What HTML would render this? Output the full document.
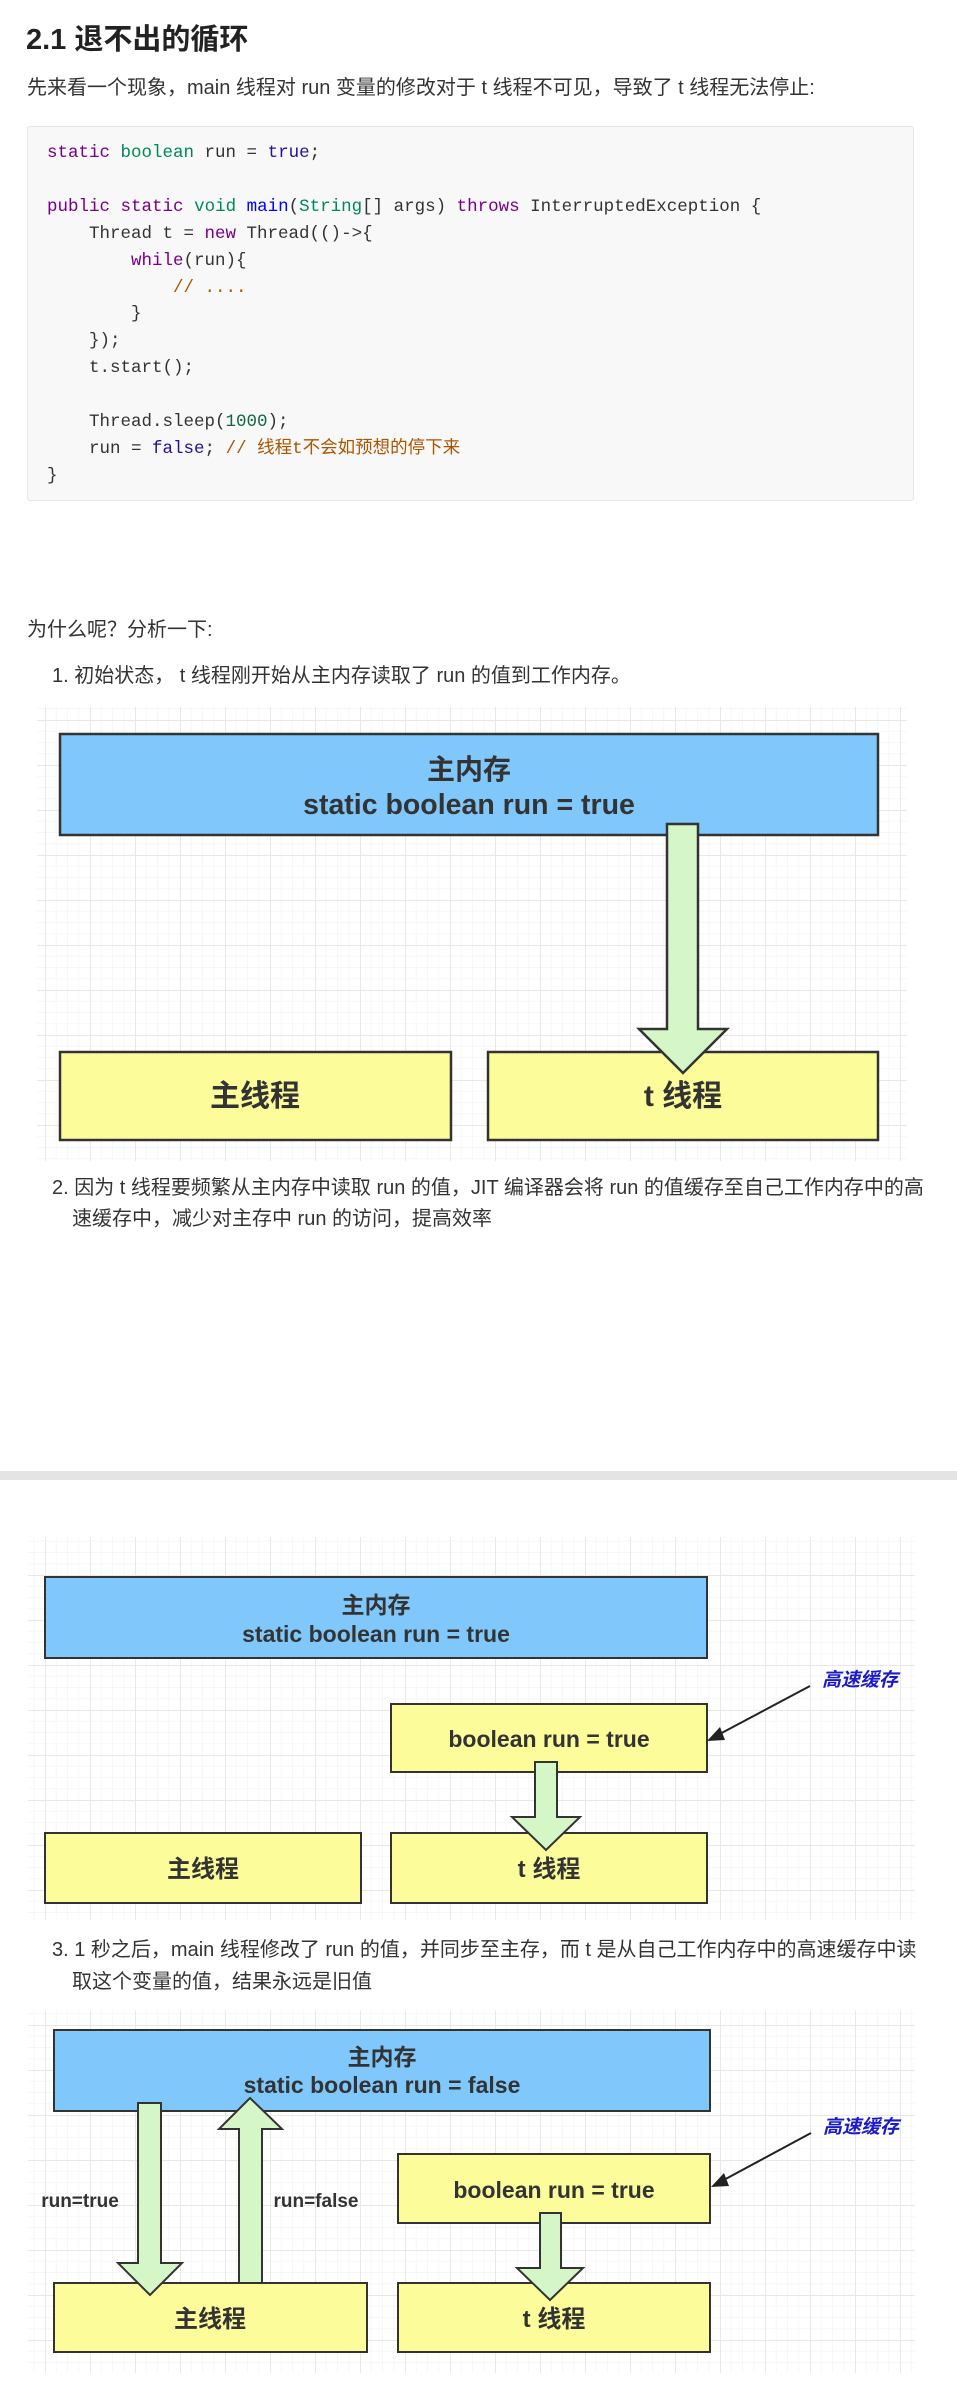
<!DOCTYPE html>
<html><head><meta charset="utf-8">
<style>
body{margin:0;width:957px;height:2381px;background:#fff;position:relative;overflow:hidden;font-family:"Liberation Sans","Noto Sans CJK SC",sans-serif;color:#333;}
.t{position:absolute;white-space:nowrap;font-size:20px;line-height:24px;}
h2{position:absolute;left:26px;top:16px;margin:0;font-size:29px;font-weight:bold;color:#222;}
.code{position:absolute;left:27px;top:126px;width:885px;height:373px;background:#f8f8f8;border:1px solid #e6e6e6;border-radius:3px;}
.code pre{margin:0;position:absolute;left:19px;top:13px;font-family:"Liberation Mono","Noto Sans CJK SC",monospace;font-size:17.5px;line-height:26.9px;color:#333;}
.k{color:#770088}.ty{color:#008855}.a{color:#221199}.c{color:#aa5500}.n{color:#116644}.f{color:#0000ff}
.sep{position:absolute;left:0;top:1471px;width:957px;height:9px;background:#e4e4e4;}
svg{position:absolute;left:0;}
svg text{font-family:"Liberation Sans","Noto Sans CJK SC",sans-serif;font-weight:bold;fill:#333;text-anchor:middle;}
</style></head><body>
<svg width="0" height="0" style="position:absolute">
<defs>
<pattern id="g" width="45" height="45" patternUnits="userSpaceOnUse">
<path d="M0 11.25H45M0 22.5H45M0 33.75H45M11.25 0V45M22.5 0V45M33.75 0V45" stroke="#f7f7f7" stroke-width="1" fill="none"/>
<path d="M0 0.5H45M0.5 0V45" stroke="#e8e8e8" stroke-width="1" fill="none"/>
</pattern>
</defs></svg>

<h2>2.1 退不出的循环</h2>
<div class="t" style="left:27px;top:76px;">先来看一个现象，main 线程对 run 变量的修改对于 t 线程不可见，导致了 t 线程无法停止:</div>
<div class="code"><pre><span class="k">static</span> <span class="ty">boolean</span> run = <span class="a">true</span>;

<span class="k">public</span> <span class="k">static</span> <span class="ty">void</span> <span class="f">main</span>(<span class="ty">String</span>[] args) <span class="k">throws</span> InterruptedException {
    Thread t = <span class="k">new</span> Thread(()-&gt;{
        <span class="k">while</span>(run){
            <span class="c">// ....</span>
        }
    });
    t.start();

    Thread.sleep(<span class="n">1000</span>);
    run = <span class="a">false</span>; <span class="c">// 线程t不会如预想的停下来</span>
}</pre></div>

<div class="t" style="left:27px;top:618px;">为什么呢？分析一下:</div>
<div class="t" style="left:52px;top:664px;">1. 初始状态， t 线程刚开始从主内存读取了 run 的值到工作内存。</div>

<svg style="top:0" width="957" height="2381">
<!-- diagram 1 -->
<rect x="37" y="707" width="870" height="454" fill="url(#g)"/>
<rect x="60" y="734" width="818" height="101" fill="#80c8fc" stroke="#333" stroke-width="2.5"/>
<text x="469" y="779" font-size="28">主内存</text>
<text x="469" y="814" font-size="28.5">static boolean run = true</text>
<rect x="60" y="1052" width="391" height="88" fill="#fdfc9b" stroke="#333" stroke-width="2.5"/>
<rect x="488" y="1052" width="390" height="88" fill="#fdfc9b" stroke="#333" stroke-width="2.5"/>
<text x="255" y="1106" font-size="30">主线程</text>
<text x="683" y="1106" font-size="30">t 线程</text>
<polygon points="667,824 698,824 698,1029 727,1029 683,1073 639,1029 667,1029" fill="#d5f7c8" stroke="#333" stroke-width="2.5"/>

<!-- diagram 2 -->
<rect x="28" y="1537" width="887" height="383" fill="url(#g)"/>
<rect x="45" y="1577" width="662" height="81" fill="#80c8fc" stroke="#333" stroke-width="2"/>
<text x="376" y="1613" font-size="23">主内存</text>
<text x="376" y="1642" font-size="23">static boolean run = true</text>
<rect x="391" y="1704" width="316" height="68" fill="#fdfc9b" stroke="#333" stroke-width="2"/>
<text x="549" y="1747" font-size="23">boolean run = true</text>
<rect x="45" y="1833" width="316" height="70" fill="#fdfc9b" stroke="#333" stroke-width="2"/>
<rect x="391" y="1833" width="316" height="70" fill="#fdfc9b" stroke="#333" stroke-width="2"/>
<text x="203" y="1877" font-size="24">主线程</text>
<text x="549" y="1877" font-size="24">t 线程</text>
<polygon points="535,1762 557,1762 557,1817 580,1817 546,1850 512,1817 535,1817" fill="#d5f7c8" stroke="#333" stroke-width="2"/>
<line x1="810" y1="1686" x2="716" y2="1736" stroke="#222" stroke-width="2"/>
<polygon points="707,1741 720,1727 725,1740" fill="#222"/>
<text x="860" y="1686" font-size="19" font-style="italic" style="fill:#1a1acc">高速缓存</text>

<!-- diagram 3 -->
<rect x="28" y="2010" width="887" height="363" fill="url(#g)"/>
<rect x="54" y="2030" width="656" height="81" fill="#80c8fc" stroke="#333" stroke-width="2"/>
<text x="382" y="2065" font-size="23">主内存</text>
<text x="382" y="2093" font-size="23">static boolean run = false</text>
<rect x="398" y="2154" width="312" height="69" fill="#fdfc9b" stroke="#333" stroke-width="2"/>
<text x="554" y="2198" font-size="23">boolean run = true</text>
<rect x="54" y="2283" width="313" height="69" fill="#fdfc9b" stroke="#333" stroke-width="2"/>
<rect x="398" y="2283" width="312" height="69" fill="#fdfc9b" stroke="#333" stroke-width="2"/>
<text x="210" y="2327" font-size="24">主线程</text>
<text x="554" y="2327" font-size="24">t 线程</text>
<polygon points="138,2103 161,2103 161,2263 182,2263 150,2295 118,2263 138,2263" fill="#d5f7c8" stroke="#333" stroke-width="2"/>
<polygon points="239,2283 262,2283 262,2129 282,2129 250,2098 219,2129 239,2129" fill="#d5f7c8" stroke="#333" stroke-width="2"/>
<polygon points="540,2213 561,2213 561,2268 583,2268 550,2300 517,2268 540,2268" fill="#d5f7c8" stroke="#333" stroke-width="2"/>
<text x="80" y="2207" font-size="19">run=true</text>
<text x="316" y="2207" font-size="19">run=false</text>
<line x1="811" y1="2133" x2="720" y2="2182" stroke="#222" stroke-width="2"/>
<polygon points="711,2187 724,2173 729,2186" fill="#222"/>
<text x="861" y="2133" font-size="19" font-style="italic" style="fill:#1a1acc">高速缓存</text>
</svg>

<div class="t" style="left:52px;top:1176px;">2. 因为 t 线程要频繁从主内存中读取 run 的值，JIT 编译器会将 run 的值缓存至自己工作内存中的高</div>
<div class="t" style="left:72px;top:1207px;">速缓存中，减少对主存中 run 的访问，提高效率</div>
<div class="sep"></div>
<div class="t" style="left:52px;top:1938px;">3. 1 秒之后，main 线程修改了 run 的值，并同步至主存，而 t 是从自己工作内存中的高速缓存中读</div>
<div class="t" style="left:72px;top:1970px;">取这个变量的值，结果永远是旧值</div>
</body></html>
